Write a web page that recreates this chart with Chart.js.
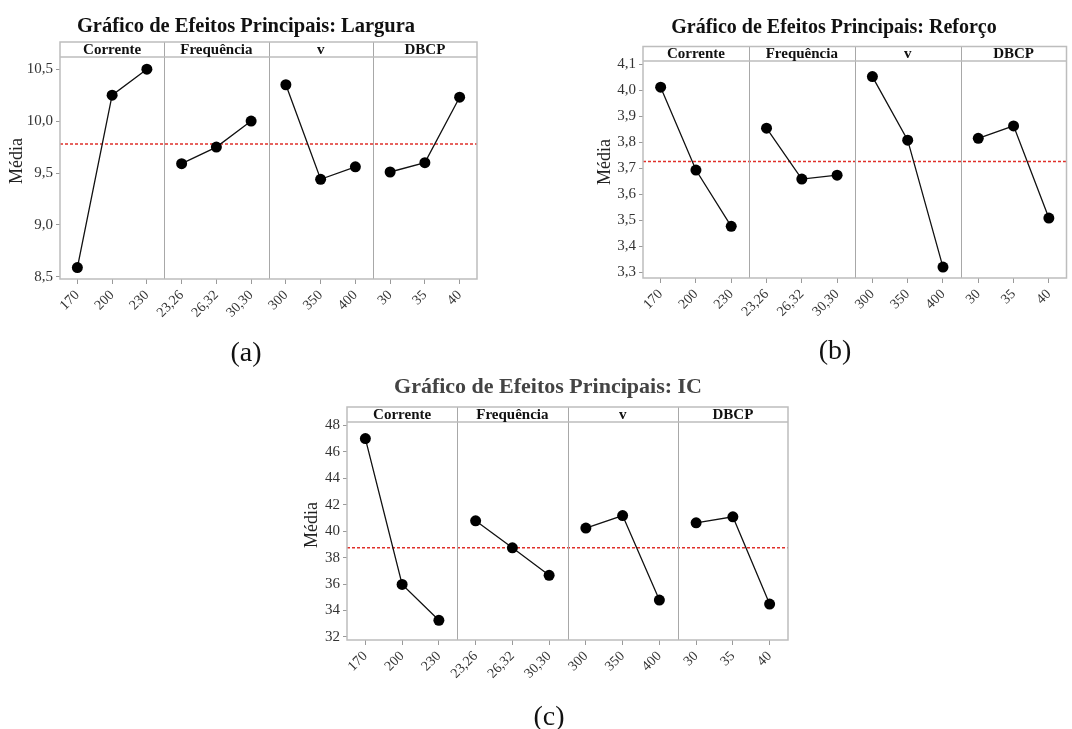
<!DOCTYPE html>
<html>
<head>
<meta charset="utf-8">
<script src="https://cdn.jsdelivr.net/npm/chart.js@4"></script>
<style>
  body { margin: 0; background: #fff; }
  #page { position: relative; width: 1072px; height: 729px; overflow: hidden; }
  .box { position: absolute; }
  .sub { position: absolute; font-family: "Liberation Serif", serif; font-size: 28px; color: #111;
         line-height: 1; transform: translate(-50%, -50%); }
</style>
</head>
<body>
<div id="page">
  <div class="box" style="left:0px;top:0px;"><canvas id="chartA" width="500" height="340"></canvas></div>
  <div class="box" style="left:560px;top:0px;"><canvas id="chartB" width="512" height="340"></canvas></div>
  <div class="box" style="left:290px;top:370px;"><canvas id="chartC" width="510" height="340"></canvas></div>
  <div class="sub" style="left:246px;top:352px;">(a)</div>
  <div class="sub" style="left:835px;top:350px;">(b)</div>
  <div class="sub" style="left:549px;top:716px;">(c)</div>
</div>
<script>
// levels of each factor, in panel order
const factorNames = ['Corrente', 'Frequência', 'v', 'DBCP'];
const levelLabels = ['170', '200', '230', '23,26', '26,32', '30,30', '300', '350', '400', '30', '35', '40'];

// mean response at each level
const larguraMeans = [8.59, 10.25, 10.50, 9.59, 9.75, 10.00, 10.35, 9.44, 9.56, 9.51, 9.60, 10.23];
const larguraOverall = 9.78;
const reforcoMeans = [4.012, 3.693, 3.476, 3.854, 3.658, 3.673, 4.053, 3.808, 3.319, 3.815, 3.863, 3.508];
const reforcoOverall = 3.726;
const icMeans = [47.0, 35.97, 33.26, 40.78, 38.74, 36.66, 40.23, 41.18, 34.79, 40.63, 41.08, 34.49];
const icOverall = 38.74;

const SERIF = '"Liberation Serif", "Times New Roman", serif';

// draws the minitab style frame: header strip, panel dividers, mean line, titles
const panelPlugin = {
    id: 'panels',
    beforeDatasetsDraw(chart, args, o) {
        const { ctx, chartArea: a, scales } = chart;
        const x = scales.x, y = scales.y;
        const headTop = a.top - o.headH;
        ctx.save();
        // mean line
        const ym = y.getPixelForValue(o.overall);
        ctx.strokeStyle = '#e0302a';
        ctx.lineWidth = 1.5;
        ctx.setLineDash([3, 2]);
        ctx.beginPath();
        ctx.moveTo(a.left, ym);
        ctx.lineTo(a.right, ym);
        ctx.stroke();
        ctx.setLineDash([]);
        // dividers
        ctx.strokeStyle = '#a8a8a8';
        ctx.lineWidth = 1;
        for (let p = 1; p < factorNames.length; p++) {
            const xd = Math.round((x.getPixelForValue(p * 3 - 1) + x.getPixelForValue(p * 3)) / 2) + 0.5;
            ctx.beginPath();
            ctx.moveTo(xd, headTop);
            ctx.lineTo(xd, a.bottom);
            ctx.stroke();
        }
        // frame + header line
        ctx.strokeStyle = '#bdbdbd';
        ctx.lineWidth = 1.5;
        ctx.strokeRect(a.left, headTop, a.right - a.left, a.bottom - headTop);
        ctx.beginPath();
        ctx.moveTo(a.left, a.top);
        ctx.lineTo(a.right, a.top);
        ctx.stroke();
        // header names
        ctx.fillStyle = '#111';
        ctx.font = 'bold 15px ' + SERIF;
        ctx.textAlign = 'center';
        ctx.textBaseline = 'alphabetic';
        factorNames.forEach((name, p) => {
            const xc = x.getPixelForValue(p * 3 + 1);
            ctx.fillText(name, xc, a.top - 3);
        });
        ctx.restore();
    },
    afterDraw(chart, args, o) {
        const { ctx } = chart;
        ctx.save();
        ctx.fillStyle = o.titleColor;
        ctx.font = 'bold ' + o.titleSize + 'px ' + SERIF;
        ctx.textAlign = 'center';
        ctx.textBaseline = 'alphabetic';
        ctx.fillText(o.title, o.titleX, o.titleY);
        // y axis title
        ctx.fillStyle = '#222';
        ctx.font = '18px ' + SERIF;
        ctx.translate(o.yTitleX, o.yTitleY);
        ctx.rotate(-Math.PI / 2);
        ctx.textBaseline = 'middle';
        ctx.fillText('Média', 0, 0);
        ctx.restore();
    }
};

const makeChart = (canvasId, means, overall, s) => {
    const datasets = factorNames.map((name, p) => ({
        label: name,
        data: levelLabels.map((_, i) => Math.floor(i / 3) === p ? means[i] : null),
        borderColor: '#111',
        borderWidth: 1.3,
        pointRadius: 5.5,
        pointHoverRadius: 5.5,
        pointBackgroundColor: '#000',
        pointBorderWidth: 0,
        spanGaps: false,
        tension: 0
    }));
    new Chart(document.getElementById(canvasId), {
        type: 'line',
        data: { labels: levelLabels, datasets },
        plugins: [panelPlugin],
        options: {
            responsive: false,
            animation: false,
            layout: { padding: { left: 0, right: s.padRight, top: s.padTop, bottom: 0 } },
            plugins: {
                legend: { display: false },
                tooltip: { enabled: false },
                panels: {
                    overall: overall, headH: s.headH, title: s.title, titleSize: s.titleSize,
                    titleColor: s.titleColor, titleX: s.titleX, titleY: s.titleY,
                    yTitleX: s.yTitleX, yTitleY: s.yTitleY
                }
            },
            scales: {
                x: {
                    type: 'category',
                    offset: true,
                    border: { display: false },
                    grid: { offset: false, drawOnChartArea: false, drawTicks: true, tickLength: 5, color: '#9a9a9a' },
                    ticks: {
                        autoSkip: false, minRotation: 45, maxRotation: 45, padding: 3,
                        color: '#333', font: { family: SERIF, size: 14 }
                    },
                    afterFit: (scale) => { scale.height = s.xH; }
                },
                y: {
                    min: s.yMin, max: s.yMax,
                    border: { display: false },
                    grid: { drawOnChartArea: false, drawTicks: true, tickLength: 4, color: '#9a9a9a' },
                    ticks: {
                        stepSize: s.step, includeBounds: false, padding: 3,
                        color: '#333', font: { family: SERIF, size: 15 },
                        callback: (v) => s.decimals ? v.toFixed(s.decimals).replace('.', ',') : String(Math.round(v))
                    },
                    afterFit: (scale) => { scale.width = s.yW; }
                }
            }
        }
    });
};

makeChart('chartA', larguraMeans, larguraOverall, {
    title: 'Gráfico de Efeitos Principais: Largura', titleSize: 20.5, titleColor: '#111', titleX: 246, titleY: 31.5,
    yMin: 8.48, yMax: 10.617, step: 0.5, decimals: 1,
    yW: 60, padRight: 23, padTop: 57, xH: 61, headH: 15, yTitleX: 17, yTitleY: 161
});
makeChart('chartB', reforcoMeans, reforcoOverall, {
    title: 'Gráfico de Efeitos Principais: Reforço', titleSize: 20, titleColor: '#111', titleX: 274, titleY: 33,
    yMin: 3.277, yMax: 4.113, step: 0.1, decimals: 1,
    yW: 83, padRight: 5, padTop: 61, xH: 62, headH: 14.5, yTitleX: 45, yTitleY: 162
});
makeChart('chartC', icMeans, icOverall, {
    title: 'Gráfico de Efeitos Principais: IC', titleSize: 22, titleColor: '#444', titleX: 258, titleY: 22.7,
    yMin: 31.77, yMax: 48.25, step: 2, decimals: 0,
    yW: 57, padRight: 12, padTop: 52, xH: 70, headH: 15, yTitleX: 22, yTitleY: 155
});
</script>
</body>
</html>
